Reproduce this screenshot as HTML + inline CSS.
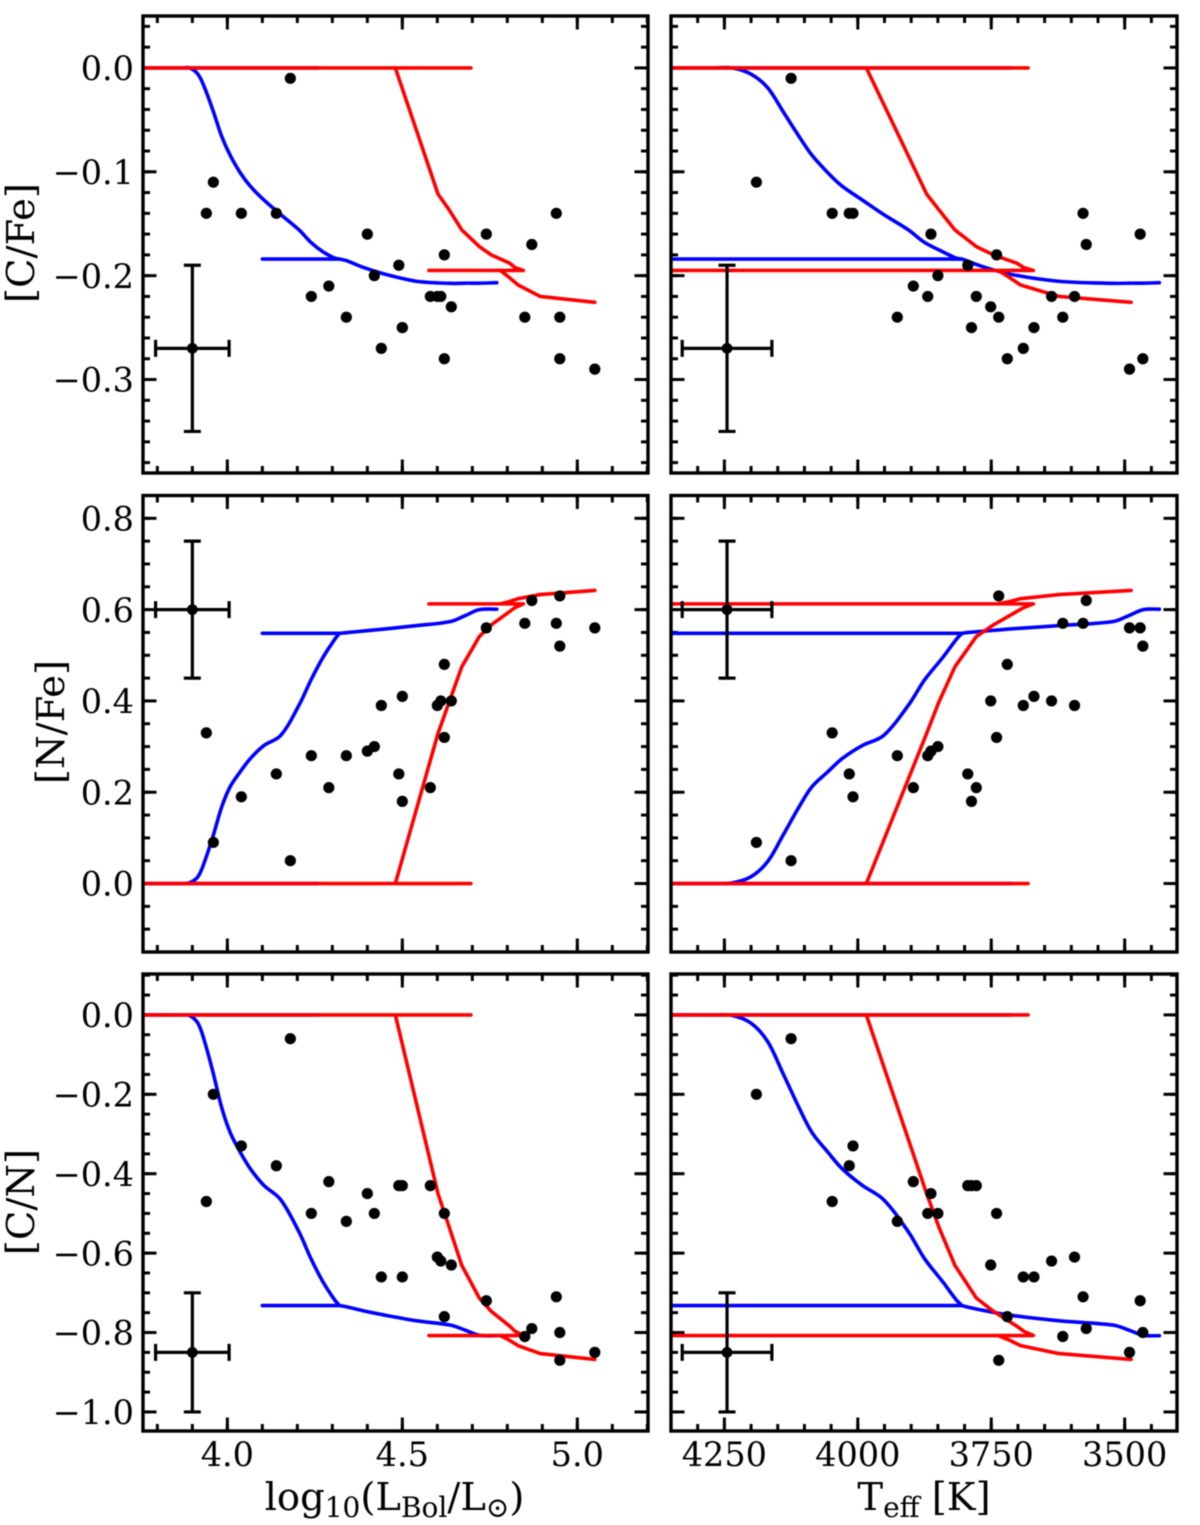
<!DOCTYPE html>
<html lang="en">
<head>
<meta charset="utf-8">
<title>Abundance ratios versus luminosity and effective temperature</title>
<style>
  html, body { margin: 0; padding: 0; background: #fff; }
  #chart { display: block; width: 1200px; height: 1525px; filter: blur(0.55px); }
  text { font-family: "DejaVu Serif", "Liberation Serif", serif; fill: #000; }
</style>
</head>
<body>
<svg id="chart" xmlns="http://www.w3.org/2000/svg" width="1200" height="1525" viewBox="0 0 1200 1525"></svg>
<script>
// ---- Observed stars (aligned by star) ----
const starLogL = [3.94,3.96,4.04,4.14,4.18,4.24,4.29,4.34,4.40,4.42,4.44,4.49,4.50,4.50,4.58,4.60,4.61,4.62,4.62,4.64,4.74,4.85,4.87,4.94,4.95,4.95,5.05];
const starTeff = [4048,4190,4009,4016,4125,3869,3896,3926,3863,3850,3690,3794,3670,3787,3778,3594,3637,3740,3720,3751,3471,3616,3572,3578,3736,3466,3491];
const starCFe  = [-0.14,-0.11,-0.14,-0.14,-0.01,-0.22,-0.21,-0.24,-0.16,-0.20,-0.27,-0.19,-0.25,-0.25,-0.22,-0.22,-0.22,-0.18,-0.28,-0.23,-0.16,-0.24,-0.17,-0.14,-0.24,-0.28,-0.29];
const starNFe  = [0.33,0.09,0.19,0.24,0.05,0.28,0.21,0.28,0.29,0.30,0.39,0.24,0.41,0.18,0.21,0.39,0.40,0.32,0.48,0.40,0.56,0.57,0.62,0.57,0.63,0.52,0.56];
const starCN   = [-0.47,-0.20,-0.33,-0.38,-0.06,-0.50,-0.42,-0.52,-0.45,-0.50,-0.66,-0.43,-0.66,-0.43,-0.43,-0.61,-0.62,-0.50,-0.76,-0.63,-0.72,-0.81,-0.79,-0.71,-0.87,-0.80,-0.85];

// ---- Blue model track ----
const blueLogL = [4.26,3.70,3.87,3.892,3.916,3.935,3.96,3.984,4.008,4.037,4.066,4.104,4.152,4.205,4.239,4.273,4.306,4.32,4.10,4.32,4.34,4.388,4.455,4.542,4.638,4.68,4.72,4.77];
const blueTeff = [3713,4400,4270,4235,4200,4169,4140,4110,4086,4056,4029,3992,3952,3905,3875,3841,3816,3805,4400,3805,3797,3762,3711,3622,3521,3492,3465,3435];
const blueCFe  = [0,0,0,0,-0.006,-0.019,-0.042,-0.066,-0.084,-0.101,-0.114,-0.127,-0.141,-0.156,-0.168,-0.177,-0.183,-0.184,-0.184,-0.184,-0.1855,-0.192,-0.199,-0.2055,-0.2074,-0.2072,-0.2072,-0.2068];
const blueNFe  = [0,0,0,0.0015,0.015,0.048,0.106,0.168,0.212,0.245,0.274,0.302,0.324,0.391,0.446,0.495,0.534,0.548,0.548,0.548,0.5495,0.553,0.558,0.565,0.574,0.587,0.600,0.601];
const blueCN   = [0,0,0,-0.0015,-0.021,-0.067,-0.148,-0.234,-0.296,-0.346,-0.388,-0.429,-0.465,-0.547,-0.614,-0.672,-0.717,-0.732,-0.732,-0.732,-0.735,-0.745,-0.757,-0.7705,-0.7814,-0.794,-0.807,-0.808];
// node numbers where the blue track turns sharply instead of curving
const blueCorners = [1,17,18,19];

// ---- Red model track ----
const redLogL = [4.696,3.70,4.48,4.602,4.634,4.67,4.72,4.754,4.807,4.822,4.846,4.576,4.78,4.803,4.831,4.894,5.05];
const redTeff = [3681,4400,3984,3871,3848,3818,3778,3746,3702,3689,3671,4400,3737,3718,3695,3623,3488];
const redCFe  = [0,0,0,-0.1215,-0.1367,-0.156,-0.172,-0.180,-0.188,-0.1923,-0.195,-0.195,-0.195,-0.201,-0.209,-0.220,-0.2257];
const redNFe  = [0,0,0,0.329,0.398,0.475,0.541,0.5665,0.596,0.6045,0.6126,0.6126,0.6126,0.617,0.624,0.633,0.642];
const redCN   = [0,0,0,-0.4505,-0.5347,-0.631,-0.713,-0.7465,-0.784,-0.7968,-0.8076,-0.8076,-0.8076,-0.818,-0.833,-0.853,-0.8677];

// ---- Representative error bars ----
const errLogL = [3.9];
const errLogLSpread = [0.105];
const errTeff = [4245];
const errTeffSpread = [84];
const errCFe = [-0.27];
const errCFeSpread = [0.08];
const errNFe = [0.6];
const errNFeSpread = [0.15];
const errCN = [-0.85];
const errCNSpread = [0.15];

// ---- Ticks ----
const logLTicks = [4.0,4.5,5.0];
const logLTickLabels = ["4.0","4.5","5.0"];
const teffTicks = [4250,4000,3750,3500];
const teffTickLabels = ["4250","4000","3750","3500"];
const cfeTicks = [0,-0.1,-0.2,-0.3];
const cfeTickLabels = ["0.0","\u22120.1","\u22120.2","\u22120.3"];
const nfeTicks = [0,0.2,0.4,0.6,0.8];
const nfeTickLabels = ["0.0","0.2","0.4","0.6","0.8"];
const cnTicks = [0,-0.2,-0.4,-0.6,-0.8,-1.0];
const cnTickLabels = ["0.0","\u22120.2","\u22120.4","\u22120.6","\u22120.8","\u22121.0"];

const NS = 'http://www.w3.org/2000/svg';
const svg = document.getElementById('chart');

function el(parent, tag, attrs) {
  const n = document.createElementNS(NS, tag);
  for (const k in attrs) n.setAttribute(k, attrs[k]);
  parent.appendChild(n);
  return n;
}
function scale(d0, d1, r0, r1) {
  return v => r0 + (v - d0) / (d1 - d0) * (r1 - r0);
}
// Smooth path through the points, with sharp turns at the corner nodes.
function smoothPath(pts, corners) {
  const unit = (a, b) => {
    const dx = b[0] - a[0], dy = b[1] - a[1], l = Math.hypot(dx, dy) || 1;
    return [dx / l, dy / l];
  };
  const isEnd = i => i === 0 || i === pts.length - 1 || corners.includes(i);
  let d = 'M' + pts[0][0].toFixed(2) + ' ' + pts[0][1].toFixed(2);
  for (let i = 0; i < pts.length - 1; i++) {
    const a = pts[i], b = pts[i + 1];
    const len = Math.hypot(b[0] - a[0], b[1] - a[1]) / 3;
    const ta = isEnd(i) ? unit(a, b) : unit(pts[i - 1], b);
    const tb = isEnd(i + 1) ? unit(a, b) : unit(a, pts[i + 2]);
    d += 'C' + (a[0] + ta[0] * len).toFixed(2) + ' ' + (a[1] + ta[1] * len).toFixed(2) + ' '
      + (b[0] - tb[0] * len).toFixed(2) + ' ' + (b[1] - tb[1] * len).toFixed(2) + ' '
      + b[0].toFixed(2) + ' ' + b[1].toFixed(2);
  }
  return d;
}

const columns = [
  { key: 'logl', x0: 143, x1: 648, lim: [3.759, 5.202], ticks: logLTicks, labels: logLTickLabels, minorStep: 0.1,
    sx: starLogL, bx: blueLogL, rx: redLogL, ex: errLogL, ee: errLogLSpread },
  { key: 'teff', x0: 671, x1: 1177, lim: [4350, 3402], ticks: teffTicks, labels: teffTickLabels, minorStep: 50,
    sx: starTeff, bx: blueTeff, rx: redTeff, ex: errTeff, ee: errTeffSpread }
];
const rows = [
  { key: 'cfe', y0: 16, y1: 473, lim: [0.05, -0.39], ticks: cfeTicks, labels: cfeTickLabels, minorStep: 0.02,
    sy: starCFe, by: blueCFe, ry: redCFe, ey: errCFe, es: errCFeSpread },
  { key: 'nfe', y0: 495.5, y1: 952, lim: [0.85, -0.15], ticks: nfeTicks, labels: nfeTickLabels, minorStep: 0.05,
    sy: starNFe, by: blueNFe, ry: redNFe, ey: errNFe, es: errNFeSpread },
  { key: 'cn', y0: 974, y1: 1431, lim: [0.103, -1.048], ticks: cnTicks, labels: cnTickLabels, minorStep: 0.05,
    sy: starCN, by: blueCN, ry: redCN, ey: errCN, es: errCNSpread }
];

function minorValues(lim, step) {
  const lo = Math.min(lim[0], lim[1]), hi = Math.max(lim[0], lim[1]);
  const out = [];
  for (let i = Math.ceil(lo / step - 1e-9); i * step <= hi + 1e-9; i++) out.push(i * step);
  return out;
}

rows.forEach((row, ri) => {
  columns.forEach((col, ci) => {
    const X = scale(col.lim[0], col.lim[1], col.x0, col.x1);
    const Y = scale(row.lim[0], row.lim[1], row.y0, row.y1);
    const w = col.x1 - col.x0, h = row.y1 - row.y0;

    const panel = el(svg, 'g', {});
    
    

    const clipId = 'clip-' + row.key + '-' + col.key;
    const clip = el(panel, 'clipPath', { id: clipId });
    el(clip, 'rect', { x: col.x0, y: row.y0, width: w, height: h });

    // ticks sit beneath the data
    const axisTicks = el(panel, 'g', { stroke: '#000', 'stroke-width': 3 });
    
    
    const maj = 13.5, min = 7;
    minorValues(col.lim, col.minorStep).forEach(v => {
      const px = X(v);
      el(axisTicks, 'line', { x1: px, y1: row.y0, x2: px, y2: row.y0 + min });
      el(axisTicks, 'line', { x1: px, y1: row.y1, x2: px, y2: row.y1 - min });
    });
    col.ticks.forEach(v => {
      const px = X(v);
      el(axisTicks, 'line', { x1: px, y1: row.y0, x2: px, y2: row.y0 + maj });
      el(axisTicks, 'line', { x1: px, y1: row.y1, x2: px, y2: row.y1 - maj });
    });
    minorValues(row.lim, row.minorStep).forEach(v => {
      const py = Y(v);
      el(axisTicks, 'line', { x1: col.x0, y1: py, x2: col.x0 + min, y2: py });
      el(axisTicks, 'line', { x1: col.x1, y1: py, x2: col.x1 - min, y2: py });
    });
    row.ticks.forEach(v => {
      const py = Y(v);
      el(axisTicks, 'line', { x1: col.x0, y1: py, x2: col.x0 + maj, y2: py });
      el(axisTicks, 'line', { x1: col.x1, y1: py, x2: col.x1 - maj, y2: py });
    });

    const plot = el(panel, 'g', { 'clip-path': 'url(#' + clipId + ')' });
    
    

    // model lines
    const bluePts = col.bx.map((v, i) => [X(v), Y(row.by[i])]);
    const blue = el(plot, 'path', { d: smoothPath(bluePts, blueCorners), fill: 'none', stroke: '#0000ff', 'stroke-width': 3.6, 'stroke-linejoin': 'round', 'stroke-linecap': 'round' });
    
    

    const redPts = col.rx.map((v, i) => X(v).toFixed(2) + ',' + Y(row.ry[i]).toFixed(2)).join(' ');
    const red = el(plot, 'polyline', { points: redPts, fill: 'none', stroke: '#ff0000', 'stroke-width': 3.6, 'stroke-linejoin': 'round', 'stroke-linecap': 'round' });
    
    

    // stars
    col.sx.forEach((v, i) => {
      const dot = el(plot, 'circle', { cx: X(v).toFixed(2), cy: Y(row.sy[i]).toFixed(2), r: 5.6, fill: '#000' });
      
      
    });

    // error bar
    const err = el(plot, 'g', { stroke: '#000', 'stroke-width': 3.2, fill: 'none' });
    
    
    const ex = col.ex[0], ey = row.ey[0], dx = col.ee[0], dy = row.es[0];
    const xa = X(ex - dx), xb = X(ex + dx), ya = Y(ey - dy), yb = Y(ey + dy), xc = X(ex), yc = Y(ey);
    const cap = 8.5;
    el(err, 'line', { x1: xa, y1: yc, x2: xb, y2: yc });
    el(err, 'line', { x1: xc, y1: ya, x2: xc, y2: yb });
    el(err, 'line', { x1: xa, y1: yc - cap, x2: xa, y2: yc + cap });
    el(err, 'line', { x1: xb, y1: yc - cap, x2: xb, y2: yc + cap });
    el(err, 'line', { x1: xc - cap, y1: ya, x2: xc + cap, y2: ya });
    el(err, 'line', { x1: xc - cap, y1: yb, x2: xc + cap, y2: yb });
    el(err, 'circle', { cx: xc, cy: yc, r: 5.4, fill: '#000', stroke: 'none' });

    // frame
    const frame = el(panel, 'rect', { x: col.x0, y: row.y0, width: w, height: h, fill: 'none', stroke: '#000', 'stroke-width': 3.4 });
    
    

    // y tick labels on the left column
    if (ci === 0) {
      row.ticks.forEach((v, i) => {
        const t = el(panel, 'text', { x: 134, y: Y(v) + 12.2, 'text-anchor': 'end', 'font-size': 33.5 });
        t.textContent = row.labels[i];
        
        
      });
    }
    // x tick labels on the bottom row
    if (ri === rows.length - 1) {
      col.ticks.forEach((v, i) => {
        const t = el(panel, 'text', { x: X(v), y: 1466, 'text-anchor': 'middle', 'font-size': 33.5 });
        t.textContent = col.labels[i];
        
        
      });
    }
  });
});

// ---- Axis titles ----
const titleCFe = el(svg, 'text', { transform: 'translate(34,243) rotate(-90)', 'text-anchor': 'middle', 'font-size': 38.5 });
titleCFe.textContent = '[C/Fe]';



const titleNFe = el(svg, 'text', { transform: 'translate(64,722) rotate(-90)', 'text-anchor': 'middle', 'font-size': 38.5 });
titleNFe.textContent = '[N/Fe]';



const titleCN = el(svg, 'text', { transform: 'translate(34,1202) rotate(-90)', 'text-anchor': 'middle', 'font-size': 38.5 });
titleCN.textContent = '[C/N]';



function addRuns(parent, runs) {
  runs.forEach(r => {
    const s = el(parent, 'tspan', r.sub ? { 'font-size': 28, dy: 7 } : (r.back ? { dy: -7 } : {}));
    s.textContent = r.t;
  });
}

const titleL = el(svg, 'text', { x: 394.5, y: 1510, 'text-anchor': 'middle', 'font-size': 38.5 });


addRuns(titleL, [
  { t: 'log' }, { t: '10', sub: true }, { t: '(L', back: true }, { t: 'Bol', sub: true },
  { t: '/L', back: true }, { t: '\u2299', sub: true }, { t: ')', back: true }
]);

const titleT = el(svg, 'text', { x: 924, y: 1510, 'text-anchor': 'middle', 'font-size': 38.5 });


addRuns(titleT, [
  { t: 'T' }, { t: 'eff', sub: true }, { t: ' [K]', back: true }
]);
</script>
</body>
</html>
